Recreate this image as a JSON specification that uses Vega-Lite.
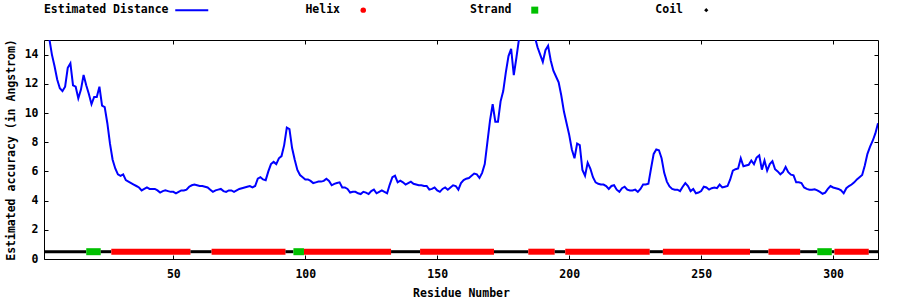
{
  "$schema": "https://vega.github.io/schema/vega-lite/v6.json",
  "autosize": {"type": "none"},
  "padding": {"left": 44, "top": 40, "right": 22, "bottom": 41},
  "width": 834,
  "height": 219,
  "background": "white",
  "datasets": {
    "dist": [
      {"r":1,"d":16.0},{"r":2,"d":15.6},{"r":3,"d":15.1},{"r":4,"d":14.0},{"r":5,"d":13.2},{"r":6,"d":12.3},{"r":7,"d":11.7},{"r":8,"d":11.5},{"r":9,"d":11.8},{"r":10,"d":13.1},
      {"r":11,"d":13.4},{"r":12,"d":11.9},{"r":13,"d":11.8},{"r":14,"d":11.0},{"r":15,"d":11.6},{"r":16,"d":12.6},{"r":17,"d":11.9},{"r":18,"d":11.3},{"r":19,"d":10.6},{"r":20,"d":11.1},
      {"r":21,"d":11.1},{"r":22,"d":11.8},{"r":23,"d":10.5},{"r":24,"d":10.4},{"r":25,"d":9.3},{"r":26,"d":7.9},{"r":27,"d":6.8},{"r":28,"d":6.2},{"r":29,"d":5.8},{"r":30,"d":5.7},
      {"r":31,"d":5.8},{"r":32,"d":5.4},{"r":33,"d":5.3},{"r":34,"d":5.2},{"r":35,"d":5.1},{"r":36,"d":5.0},{"r":37,"d":4.9},{"r":38,"d":4.7},{"r":39,"d":4.8},{"r":40,"d":4.9},
      {"r":41,"d":4.8},{"r":42,"d":4.8},{"r":43,"d":4.8},{"r":44,"d":4.7},{"r":45,"d":4.55},{"r":46,"d":4.65},{"r":47,"d":4.7},{"r":48,"d":4.65},{"r":49,"d":4.6},{"r":50,"d":4.6},
      {"r":51,"d":4.5},{"r":52,"d":4.6},{"r":53,"d":4.7},{"r":54,"d":4.7},{"r":55,"d":4.75},{"r":56,"d":4.95},{"r":57,"d":5.05},{"r":58,"d":5.1},{"r":59,"d":5.05},{"r":60,"d":5.0},
      {"r":61,"d":5.0},{"r":62,"d":4.95},{"r":63,"d":4.9},{"r":64,"d":4.75},{"r":65,"d":4.6},{"r":66,"d":4.7},{"r":67,"d":4.75},{"r":68,"d":4.8},{"r":69,"d":4.65},{"r":70,"d":4.6},
      {"r":71,"d":4.7},{"r":72,"d":4.7},{"r":73,"d":4.6},{"r":74,"d":4.7},{"r":75,"d":4.8},{"r":76,"d":4.85},{"r":77,"d":4.9},{"r":78,"d":4.95},{"r":79,"d":5.0},{"r":80,"d":4.9},
      {"r":81,"d":5.0},{"r":82,"d":5.5},{"r":83,"d":5.6},{"r":84,"d":5.45},{"r":85,"d":5.4},{"r":86,"d":6.0},{"r":87,"d":6.5},{"r":88,"d":6.65},{"r":89,"d":6.5},{"r":90,"d":6.9},
      {"r":91,"d":7.05},{"r":92,"d":7.8},{"r":93,"d":9.0},{"r":94,"d":8.9},{"r":95,"d":7.6},{"r":96,"d":6.8},{"r":97,"d":6.1},{"r":98,"d":5.75},{"r":99,"d":5.6},{"r":100,"d":5.45},
      {"r":101,"d":5.45},{"r":102,"d":5.35},{"r":103,"d":5.2},{"r":104,"d":5.25},{"r":105,"d":5.3},{"r":106,"d":5.3},{"r":107,"d":5.35},{"r":108,"d":5.5},{"r":109,"d":5.35},{"r":110,"d":5.05},
      {"r":111,"d":5.15},{"r":112,"d":5.2},{"r":113,"d":5.25},{"r":114,"d":4.9},{"r":115,"d":4.9},{"r":116,"d":4.8},{"r":117,"d":4.55},{"r":118,"d":4.6},{"r":119,"d":4.6},{"r":120,"d":4.5},
      {"r":121,"d":4.45},{"r":122,"d":4.6},{"r":123,"d":4.55},{"r":124,"d":4.45},{"r":125,"d":4.65},{"r":126,"d":4.75},{"r":127,"d":4.5},{"r":128,"d":4.6},{"r":129,"d":4.7},{"r":130,"d":4.6},
      {"r":131,"d":4.5},{"r":132,"d":5.1},{"r":133,"d":5.6},{"r":134,"d":5.7},{"r":135,"d":5.25},{"r":136,"d":5.37},{"r":137,"d":5.25},{"r":138,"d":5.1},{"r":139,"d":5.2},{"r":140,"d":5.3},
      {"r":141,"d":5.15},{"r":142,"d":5.1},{"r":143,"d":5.05},{"r":144,"d":5.05},{"r":145,"d":5.0},{"r":146,"d":5.0},{"r":147,"d":4.75},{"r":148,"d":4.8},{"r":149,"d":4.9},{"r":150,"d":4.7},
      {"r":151,"d":4.6},{"r":152,"d":4.8},{"r":153,"d":4.9},{"r":154,"d":4.75},{"r":155,"d":4.9},{"r":156,"d":5.05},{"r":157,"d":5.0},{"r":158,"d":4.75},{"r":159,"d":5.2},{"r":160,"d":5.4},
      {"r":161,"d":5.5},{"r":162,"d":5.55},{"r":163,"d":5.7},{"r":164,"d":5.85},{"r":165,"d":5.8},{"r":166,"d":5.55},{"r":167,"d":5.9},{"r":168,"d":6.5},{"r":169,"d":8.0},{"r":170,"d":9.5},
      {"r":171,"d":10.6},{"r":172,"d":9.4},{"r":173,"d":9.4},{"r":174,"d":10.8},{"r":175,"d":11.5},{"r":176,"d":12.8},{"r":177,"d":13.9},{"r":178,"d":14.4},{"r":179,"d":12.6},{"r":180,"d":13.8},
      {"r":181,"d":15.1},{"r":182,"d":16.2},{"r":183,"d":16.8},{"r":184,"d":16.8},{"r":185,"d":16.5},{"r":186,"d":15.8},{"r":187,"d":15.2},{"r":188,"d":14.5},{"r":189,"d":14.0},{"r":190,"d":13.5},
      {"r":191,"d":14.3},{"r":192,"d":14.6},{"r":193,"d":13.6},{"r":194,"d":12.9},{"r":195,"d":12.5},{"r":196,"d":12.1},{"r":197,"d":11.2},{"r":198,"d":10.1},{"r":199,"d":9.3},{"r":200,"d":8.5},
      {"r":201,"d":7.5},{"r":202,"d":6.9},{"r":203,"d":7.9},{"r":204,"d":7.8},{"r":205,"d":6.1},{"r":206,"d":5.7},{"r":207,"d":6.6},{"r":208,"d":6.2},{"r":209,"d":5.6},{"r":210,"d":5.25},
      {"r":211,"d":5.15},{"r":212,"d":5.1},{"r":213,"d":5.1},{"r":214,"d":5.0},{"r":215,"d":4.8},{"r":216,"d":5.0},{"r":217,"d":5.05},{"r":218,"d":4.75},{"r":219,"d":4.6},{"r":220,"d":4.85},
      {"r":221,"d":4.95},{"r":222,"d":4.75},{"r":223,"d":4.7},{"r":224,"d":4.7},{"r":225,"d":4.75},{"r":226,"d":4.6},{"r":227,"d":4.8},{"r":228,"d":5.1},{"r":229,"d":5.1},{"r":230,"d":5.15},
      {"r":231,"d":6.2},{"r":232,"d":7.2},{"r":233,"d":7.5},{"r":234,"d":7.45},{"r":235,"d":6.9},{"r":236,"d":5.9},{"r":237,"d":5.3},{"r":238,"d":4.97},{"r":239,"d":4.8},{"r":240,"d":4.75},
      {"r":241,"d":4.75},{"r":242,"d":4.65},{"r":243,"d":4.95},{"r":244,"d":5.2},{"r":245,"d":5.0},{"r":246,"d":4.65},{"r":247,"d":4.8},{"r":248,"d":4.5},{"r":249,"d":4.55},{"r":250,"d":4.65},
      {"r":251,"d":4.95},{"r":252,"d":4.9},{"r":253,"d":4.75},{"r":254,"d":4.85},{"r":255,"d":4.9},{"r":256,"d":4.85},{"r":257,"d":5.1},{"r":258,"d":4.9},{"r":259,"d":4.95},{"r":260,"d":5.0},
      {"r":261,"d":5.45},{"r":262,"d":6.05},{"r":263,"d":6.15},{"r":264,"d":6.2},{"r":265,"d":6.9},{"r":266,"d":6.35},{"r":267,"d":6.4},{"r":268,"d":6.45},{"r":269,"d":6.75},{"r":270,"d":6.5},
      {"r":271,"d":6.95},{"r":272,"d":7.1},{"r":273,"d":6.12},{"r":274,"d":6.75},{"r":275,"d":6.05},{"r":276,"d":6.5},{"r":277,"d":6.7},{"r":278,"d":6.15},{"r":279,"d":6.0},{"r":280,"d":5.8},
      {"r":281,"d":5.95},{"r":282,"d":6.3},{"r":283,"d":5.95},{"r":284,"d":5.78},{"r":285,"d":5.73},{"r":286,"d":5.25},{"r":287,"d":5.25},{"r":288,"d":5.2},{"r":289,"d":4.9},{"r":290,"d":4.8},
      {"r":291,"d":4.75},{"r":292,"d":4.75},{"r":293,"d":4.78},{"r":294,"d":4.7},{"r":295,"d":4.6},{"r":296,"d":4.47},{"r":297,"d":4.55},{"r":298,"d":4.8},{"r":299,"d":5.0},{"r":300,"d":4.9},
      {"r":301,"d":4.85},{"r":302,"d":4.8},{"r":303,"d":4.7},{"r":304,"d":4.5},{"r":305,"d":4.85},{"r":306,"d":5.0},{"r":307,"d":5.1},{"r":308,"d":5.25},{"r":309,"d":5.45},{"r":310,"d":5.6},
      {"r":311,"d":5.75},{"r":312,"d":6.4},{"r":313,"d":7.2},{"r":314,"d":7.7},{"r":315,"d":8.1},{"r":316,"d":8.6},{"r":317,"d":9.3}
    ],
    "ss": [
      {"t":"Coil","s":1,"e":17},
      {"t":"Strand","s":17,"e":22.5},
      {"t":"Coil","s":22.5,"e":26.5},
      {"t":"Helix","s":26.5,"e":56.5},
      {"t":"Coil","s":56.5,"e":64.5},
      {"t":"Helix","s":64.5,"e":92.5},
      {"t":"Coil","s":92.5,"e":95.5},
      {"t":"Strand","s":95.5,"e":99.5},
      {"t":"Helix","s":99.5,"e":132.5},
      {"t":"Coil","s":132.5,"e":143.5},
      {"t":"Helix","s":143.5,"e":171.5},
      {"t":"Coil","s":171.5,"e":184.5},
      {"t":"Helix","s":184.5,"e":194.5},
      {"t":"Coil","s":194.5,"e":198.5},
      {"t":"Helix","s":198.5,"e":230.5},
      {"t":"Coil","s":230.5,"e":235.5},
      {"t":"Helix","s":235.5,"e":268.5},
      {"t":"Coil","s":268.5,"e":275.5},
      {"t":"Helix","s":275.5,"e":287.5},
      {"t":"Coil","s":287.5,"e":294},
      {"t":"Strand","s":294,"e":299.5},
      {"t":"Coil","s":299.5,"e":300.5},
      {"t":"Helix","s":300.5,"e":313.5},
      {"t":"Coil","s":313.5,"e":317}
    ]
  },
  "layer": [
    {
      "mark": {"type": "rule", "color": "black", "strokeWidth": 1, "strokeDash": [2, 2]},
      "encoding": {
        "y": {"datum": 6.6, "type": "quantitative", "axis": null}
      }
    },
    {
      "data": {"name": "ss"},
      "mark": {"type": "rule", "strokeCap": "butt"},
      "encoding": {
        "x": {"field": "s", "type": "quantitative",
              "axis": {"orient": "top", "labels": false, "title": null, "values": [50,100,150,200,250,300]}},
        "x2": {"field": "e"},
        "y": {"datum": 0.5, "type": "quantitative",
              "axis": {"orient": "right", "labels": false, "title": null, "values": [0,2,4,6,8,10,12,14]}},
        "color": {"field": "t", "type": "nominal"},
        "strokeWidth": {"condition": [
          {"test": "datum.t === 'Coil'", "value": 3},
          {"test": "datum.t === 'Strand'", "value": 7}], "value": 6}
      }
    },
    {
      "data": {"name": "dist"},
      "mark": {"type": "line", "strokeWidth": 2, "clip": true, "interpolate": "linear"},
      "encoding": {
        "x": {"field": "r", "type": "quantitative",
              "scale": {"domain": [1, 317], "nice": false, "zero": false},
              "axis": {"orient": "bottom", "title": "Residue Number", "values": [50,100,150,200,250,300]}},
        "y": {"field": "d", "type": "quantitative",
              "scale": {"domain": [0, 15], "nice": false, "zero": true},
              "axis": {"orient": "left", "title": "Estimated accuracy (in Angstrom)", "values": [0,2,4,6,8,10,12,14]}},
        "color": {
          "datum": "Estimated Distance", "type": "nominal",
          "scale": {"domain": ["Estimated Distance","Helix","Strand","Coil"], "range": ["#0000ff","#ff0000","#00c000","#000000"]},
          "legend": {
            "orient": "none", "legendX": 142, "legendY": -52, "direction": "horizontal",
            "columns": 4, "gridAlign": "all", "columnPadding": 84.5, "symbolSize": 1089,
            "labelAlign": "right", "labelOffset": -29, "title": null, "padding": 0,
            "encoding": {
              "symbols": {
                "shape": {"value": {"expr": "datum.label === 'Estimated Distance' ? 'M-1,0L1,0' : datum.label === 'Strand' ? 'square' : datum.label === 'Coil' ? 'diamond' : 'circle'"}},
                "size": {"value": {"expr": "datum.label === 'Estimated Distance' ? 1089 : datum.label === 'Strand' ? 49 : datum.label === 'Coil' ? 18 : 30"}},
                "fill": {"value": {"expr": "datum.label === 'Estimated Distance' ? 'transparent' : datum.label === 'Strand' ? '#00c000' : datum.label === 'Coil' ? '#000000' : '#ff0000'"}},
                "stroke": {"value": {"expr": "datum.label === 'Estimated Distance' ? '#0000ff' : datum.label === 'Strand' ? '#00c000' : datum.label === 'Coil' ? '#000000' : '#ff0000'"}},
                "strokeWidth": {"value": {"expr": "datum.label === 'Estimated Distance' ? 2 : 0"}},
                "opacity": {"value": 1}
              }
            }
          }
        }
      }
    }
  ],
  "resolve": {"axis": {"x": "independent", "y": "independent"}},
  "config": {
    "view": {"stroke": null},
    "legend": {
      "labelFont": "DejaVu Sans Mono",
      "labelFontWeight": "bold",
      "labelFontSize": 11.5,
      "labelColor": "black",
      "labelLimit": 400
    },
    "axis": {
      "grid": false,
      "domainColor": "black",
      "domainWidth": 1,
      "tickColor": "black",
      "tickSize": -4,
      "tickWidth": 1,
      "labelFont": "DejaVu Sans Mono",
      "labelFontWeight": "bold",
      "labelFontSize": 11.5,
      "labelColor": "black",
      "titleFont": "DejaVu Sans Mono",
      "titleFontWeight": "bold",
      "titleFontSize": 11.5,
      "titleColor": "black"
    },
    "axisBottom": {"labelPadding": 13, "titlePadding": 8},
    "axisLeft": {"labelPadding": 10, "titlePadding": 8},
    "axisTop": {"labelPadding": 0},
    "axisRight": {"labelPadding": 0}
  }
}
